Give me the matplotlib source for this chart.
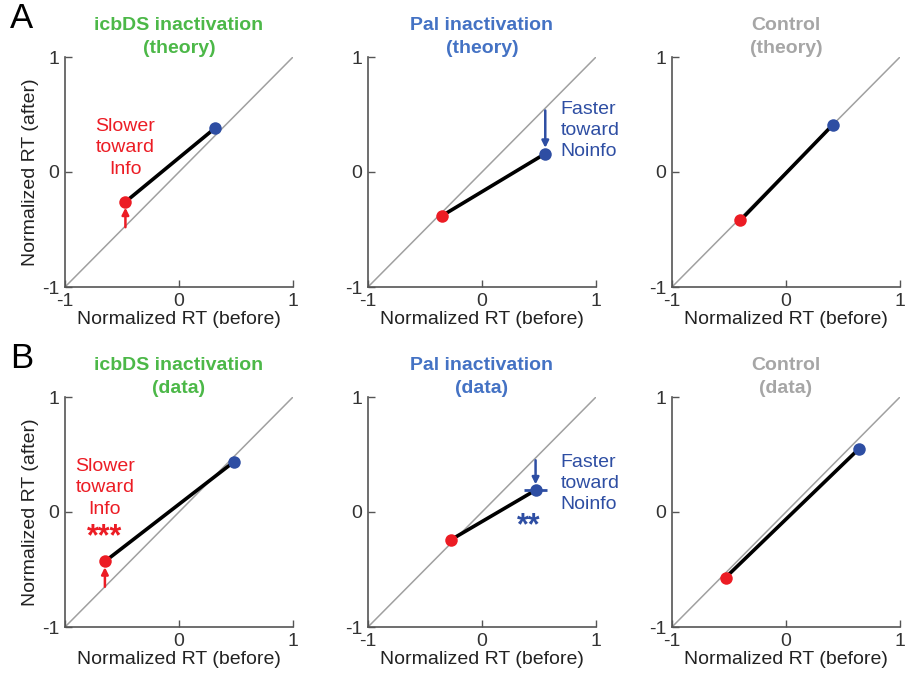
import matplotlib
matplotlib.use('Agg')
import matplotlib.pyplot as plt

plt.rcParams['font.family'] = ['Liberation Sans', 'DejaVu Sans']
plt.rcParams['axes.unicode_minus'] = False

RED = '#ec1c24'
BLUE = '#2e4ea3'
GREEN = '#4cb848'
TITLE_BLUE = '#4472c4'
GRAY = '#a6a6a6'

# panel titles (row A = theory, row B = data)
titles = [['icbDS inactivation\n(theory)', 'Pal inactivation\n(theory)', 'Control\n(theory)'],
          ['icbDS inactivation\n(data)', 'Pal inactivation\n(data)', 'Control\n(data)']]
title_colors = [GREEN, TITLE_BLUE, GRAY]

# Info (red) and Noinfo (blue) normalized RT, before vs after
info_before = [[-0.47, -0.35, -0.40], [-0.65, -0.27, -0.53]]
info_after = [[-0.26, -0.38, -0.42], [-0.43, -0.24, -0.57]]
noinfo_before = [[0.32, 0.555, 0.41], [0.48, 0.47, 0.64]]
noinfo_after = [[0.385, 0.16, 0.41], [0.435, 0.19, 0.55]]
noinfo_xerr = [[0, 0, 0], [0.04, 0.1, 0.035]]

lefts = [65, 368, 672]
tops = [57, 397]
W, H = 907, 686

fig = plt.figure(figsize=(W / 100, H / 100), dpi=100)

for r in range(2):
    for c in range(3):
        ax = fig.add_axes([lefts[c] / W, 1 - (tops[r] + 230) / H, 228 / W, 230 / H])
        ax.plot([-1, 1], [-1, 1], color='#a0a0a0', lw=1.1, zorder=1)
        ax.plot([info_before[r][c], noinfo_before[r][c]],
                [info_after[r][c], noinfo_after[r][c]], color='black', lw=2.6, zorder=2)
        if noinfo_xerr[r][c] > 0:
            ax.errorbar(noinfo_before[r][c], noinfo_after[r][c], xerr=noinfo_xerr[r][c],
                        fmt='none', ecolor=BLUE, elinewidth=2, capsize=0, zorder=3)
        ax.plot(info_before[r][c], info_after[r][c], 'o', color=RED, ms=9, mec='none', zorder=4)
        ax.plot(noinfo_before[r][c], noinfo_after[r][c], 'o', color=BLUE, ms=9, mec='none', zorder=4)

        ax.set_xlim(-1, 1)
        ax.set_ylim(-1, 1)
        ax.set_xticks([-1, 0, 1])
        ax.set_yticks([-1, 0, 1])
        ax.set_yticklabels(['-1', '0', '1'])
        if r == 1 and c == 0:
            ax.set_xticklabels(['', '0', '1'])
        else:
            ax.set_xticklabels(['-1', '0', '1'])
        ax.tick_params(direction='in', length=5, width=1, color='#555555',
                       labelsize=14, labelcolor='#333333', pad=4)
        for s in ['top', 'right']:
            ax.spines[s].set_visible(False)
        for s in ['left', 'bottom']:
            ax.spines[s].set_color('#555555')
            ax.spines[s].set_linewidth(1.2)
        ax.set_xlabel('Normalized RT (before)', fontsize=14, color='#222222', labelpad=1)
        if c == 0:
            ax.set_ylabel('Normalized RT (after)', fontsize=14, color='#222222', labelpad=2)
        ax.set_title(titles[r][c], fontsize=14, fontweight='bold', color=title_colors[c],
                     linespacing=1.45, pad=3)

        if c == 0:
            x0 = info_before[r][c]
            y0 = info_after[r][c]
            ax.annotate('', xy=(x0, y0 - 0.05), xytext=(x0, y0 - 0.22),
                        arrowprops=dict(arrowstyle='-|>', color=RED, lw=1.8,
                                        mutation_scale=10, shrinkA=0, shrinkB=0))
            ax.text(x0, 0.21, 'Slower\ntoward\nInfo', color=RED, fontsize=14,
                    ha='center', va='center', linespacing=1.32)
            if r == 1:
                ax.text(x0, -0.22, '***', color=RED, fontsize=22, fontweight='bold',
                        ha='center', va='center')
        if c == 1:
            x0 = noinfo_before[r][c]
            y0 = noinfo_after[r][c]
            ax.annotate('', xy=(x0, y0 + 0.05), xytext=(x0, x0 - 0.02),
                        arrowprops=dict(arrowstyle='-|>', color=BLUE, lw=1.8,
                                        mutation_scale=10, shrinkA=0, shrinkB=0))
            ax.text(0.69, 0.36 if r == 0 else 0.25, 'Faster\ntoward\nNoinfo', color=BLUE,
                    fontsize=14, ha='left', va='center', linespacing=1.3, clip_on=False)
            if r == 1:
                ax.text(x0 - 0.06, -0.12, '**', color=BLUE, fontsize=22, fontweight='bold',
                        ha='center', va='center')

fig.text(22 / W, 1 - 18 / H, 'A', fontsize=25, ha='center', va='center')
fig.text(22 / W, 1 - 358 / H, 'B', fontsize=25, ha='center', va='center')

fig.savefig('out.png', dpi=100)
